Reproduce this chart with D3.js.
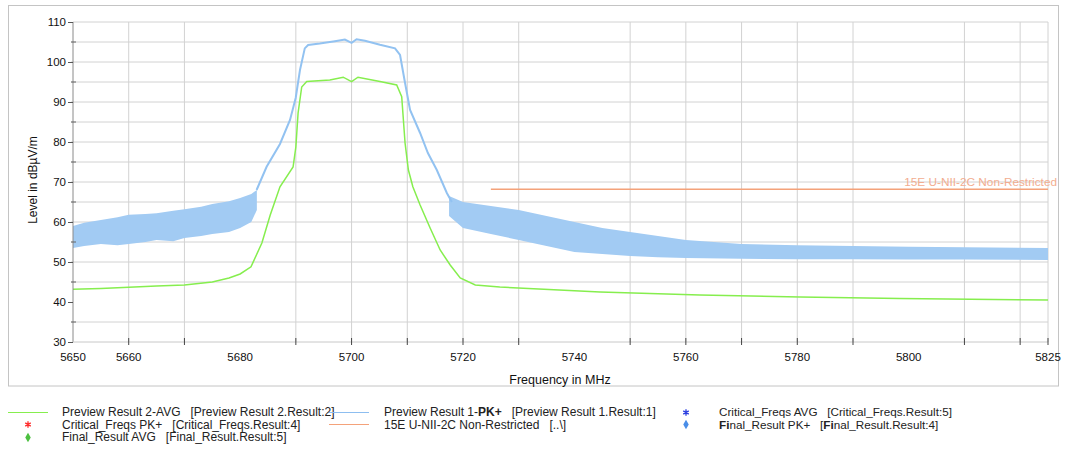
<!DOCTYPE html>
<html>
<head>
<meta charset="utf-8">
<script src="https://cdn.jsdelivr.net/npm/d3@7"></script>
<style>
  html, body { margin: 0; padding: 0; background: #fff; }
  svg { display: block; font-family: "Liberation Sans", Arial, sans-serif; }
  text { white-space: pre; }
</style>
</head>
<body>
<svg id="chart" width="1067" height="450"></svg>
<script>
// Frequency axis (MHz) and level axis (dBµV/m)
const xLabelTicks = [5650, 5660, 5680, 5700, 5720, 5740, 5760, 5780, 5800, 5825];
const xGridTicks = [5660, 5670, 5690, 5700, 5710, 5720, 5730, 5750, 5760, 5770, 5780, 5790, 5810, 5820];
const yLabelTicks = [30, 40, 50, 60, 70, 80, 90, 100, 110];
const yGridTicks = [35, 45, 50, 55, 60, 65, 70, 75, 80, 85, 90, 95, 100, 105];
const yMinorTicks = [35, 45, 55, 65, 75, 85, 95, 105];

// Preview Result 2-AVG (green trace): frequency / level
const avgFreq = [5650, 5655, 5660, 5665, 5670, 5675, 5678, 5680, 5681.95, 5683.9, 5685.4, 5687.15, 5689.5, 5690.0, 5690.4, 5691.05, 5691.95, 5696.1, 5698.5, 5700.0, 5701.15, 5705.1, 5708.1, 5709.0, 5709.6, 5710.2, 5711.0, 5712.3, 5714.1, 5715.9, 5717.7, 5719.5, 5722.2, 5726.6, 5744.6, 5762.5, 5780.5, 5798.4, 5825];
const avgLevel = [43.2, 43.4, 43.7, 44.0, 44.25, 45.0, 46.0, 47.0, 48.8, 54.75, 61.75, 68.8, 73.75, 78.75, 87.25, 93.75, 95.1, 95.5, 96.2, 95.1, 96.2, 95.1, 94.25, 91.3, 79.75, 73.0, 68.8, 64.25, 58.5, 53.0, 49.25, 46.0, 44.25, 43.75, 42.5, 41.75, 41.25, 40.9, 40.5];

// Preview Result 1-PK+ (blue trace): noisy lower band, min / max envelope
const pkLowFreq = [5650, 5652, 5655, 5658, 5660, 5663, 5665, 5668, 5670, 5673, 5675, 5678, 5680, 5682, 5683];
const pkLowMin  = [53.5, 54.0, 54.5, 54.2, 54.5, 55.0, 55.5, 55.2, 56.0, 56.5, 57.0, 57.5, 58.5, 60.0, 63.0];
const pkLowMax  = [59.0, 59.8, 60.5, 61.2, 61.8, 62.0, 62.2, 62.8, 63.2, 63.8, 64.5, 65.2, 66.0, 67.0, 68.0];

// Blue trace: occupied channel skirts and plateau
const pkMainFreq  = [5682.95, 5684.75, 5687.15, 5688.95, 5689.97, 5690.74, 5691.6, 5692.2, 5694.3, 5697.0, 5698.8, 5700.0, 5700.9, 5702.4, 5705.1, 5707.8, 5708.7, 5709.6, 5710.5, 5712.3, 5713.7, 5715.3, 5717.1, 5718.0];
const pkMainLevel = [68.0, 73.8, 79.5, 85.5, 91.0, 98.0, 103.4, 104.25, 104.6, 105.2, 105.6, 104.8, 105.7, 105.3, 104.3, 103.4, 101.75, 94.75, 88.0, 82.25, 77.25, 73.0, 67.25, 65.0];

// Blue trace: noisy upper band, min / max envelope
const pkHighFreq = [5717.5, 5720, 5725, 5730, 5735, 5740, 5745, 5750, 5755, 5760, 5770, 5780, 5790, 5800, 5810, 5825];
const pkHighMin  = [61.5, 58.5, 57.0, 55.5, 54.0, 52.5, 52.0, 51.5, 51.2, 51.0, 50.8, 50.7, 50.7, 50.6, 50.6, 50.5];
const pkHighMax  = [66.5, 65.0, 64.0, 63.0, 61.5, 60.0, 58.5, 57.5, 56.5, 55.5, 54.5, 54.2, 54.0, 53.8, 53.7, 53.5];

// 15E U-NII-2C Non-Restricted limit
const limitFreq = [5725, 5825];
const limitLevel = [68.2, 68.2];
const limitName = "15E U-NII-2C Non-Restricted";

const svg = d3.select("#chart");
const x = d3.scaleLinear().domain([5650, 5825]).range([73, 1048]);
const y = d3.scaleLinear().domain([30, 110]).range([342, 22]);

// Outer frame
svg.append("rect").attr("x", 8.5).attr("y", 5.5).attr("width", 1050).attr("height", 380.5)
  .attr("fill", "none").attr("stroke", "#c4c4c4");

// Grid
const grid = svg.append("g").attr("stroke", "#d2d2d2").attr("stroke-width", 1);
grid.selectAll(".vg").data(xGridTicks).join("line")
  .attr("x1", d => x(d)).attr("x2", d => x(d)).attr("y1", y(110)).attr("y2", y(30));
grid.selectAll(".hg").data(yGridTicks).join("line")
  .attr("x1", x(5650) - 2).attr("x2", x(5825)).attr("y1", d => y(d)).attr("y2", d => y(d));
grid.append("line").attr("x1", x(5650)).attr("x2", x(5825)).attr("y1", y(110)).attr("y2", y(110));
grid.append("line").attr("x1", x(5825)).attr("x2", x(5825)).attr("y1", y(110)).attr("y2", y(30));

// Traces
const bandLow = pkLowFreq.map((f, i) => ({ f, lo: pkLowMin[i], hi: pkLowMax[i] }));
const bandHigh = pkHighFreq.map((f, i) => ({ f, lo: pkHighMin[i], hi: pkHighMax[i] }));
const area = d3.area().x(d => x(d.f)).y0(d => y(d.lo)).y1(d => y(d.hi));
svg.append("path").datum(bandLow).attr("d", area).attr("fill", "#a2cbf3");
svg.append("path").datum(bandHigh).attr("d", area).attr("fill", "#a2cbf3");

const line = d3.line().x(d => x(d[0])).y(d => y(d[1]));
svg.append("path").datum(pkMainFreq.map((f, i) => [f, pkMainLevel[i]]))
  .attr("d", line).attr("fill", "none").attr("stroke", "#92c2f1").attr("stroke-width", 2);

svg.append("path").datum(avgFreq.map((f, i) => [f, avgLevel[i]]))
  .attr("d", line).attr("fill", "none").attr("stroke", "#86ee4e").attr("stroke-width", 1.5);

svg.append("path").datum(limitFreq.map((f, i) => [f, limitLevel[i]]))
  .attr("d", line).attr("fill", "none").attr("stroke", "#f4a27a").attr("stroke-width", 1.5);
svg.append("text").attr("x", x(5825) + 9).attr("y", y(68.2) - 3).attr("text-anchor", "end")
  .attr("font-size", 11.8).attr("fill", "#f2ad90").text(limitName);

// Axes
const axisColor = "#8a8a8a";
svg.append("line").attr("x1", x(5650)).attr("x2", x(5650)).attr("y1", y(110)).attr("y2", y(30)).attr("stroke", axisColor);
svg.append("line").attr("x1", x(5650)).attr("x2", x(5825)).attr("y1", y(30)).attr("y2", y(30)).attr("stroke", "#c8c8c8");

const yAxis = d3.axisLeft(y).tickValues(yLabelTicks).tickSize(5).tickPadding(2).tickFormat(d3.format("d"));
const gy = svg.append("g").attr("transform", `translate(${x(5650)},0)`).call(yAxis);
gy.select(".domain").remove();
gy.selectAll("line").attr("stroke", "#555");
gy.selectAll("text").attr("font-size", 11.5).attr("fill", "#111").attr("font-family", "Liberation Sans, Arial, sans-serif");
svg.append("g").selectAll("line").data(yMinorTicks).join("line")
  .attr("x1", x(5650) - 2).attr("x2", x(5650) + 3).attr("y1", d => y(d)).attr("y2", d => y(d)).attr("stroke", "#666");

const xTickMarks = xGridTicks.concat([5825]);
svg.append("g").selectAll("line").data(xTickMarks).join("line")
  .attr("x1", d => x(d)).attr("x2", d => x(d)).attr("y1", y(30) - 4).attr("y2", y(30) + 3).attr("stroke", "#444");
svg.append("g").selectAll("text").data(xLabelTicks).join("text")
  .attr("x", d => x(d)).attr("y", 361).attr("text-anchor", "middle")
  .attr("font-size", 11.5).attr("fill", "#111").text(d => d);

// Axis titles
svg.append("text").attr("x", 560).attr("y", 384).attr("text-anchor", "middle")
  .attr("font-size", 12.5).attr("fill", "#111").text("Frequency in MHz");
svg.append("text").attr("transform", "translate(37,180) rotate(-90)").attr("text-anchor", "middle")
  .attr("font-size", 12).attr("fill", "#111").text("Level in dBµV/m");

// Legend
const legendRows = [416, 428.5, 441];
const legendItems = [
  { col: 0, row: 0, kind: "line", color: "#86ee4e", parts: [["Preview Result 2-AVG   [Preview Result 2.Result:2]", false]] },
  { col: 1, row: 0, kind: "line", color: "#8dbef0", parts: [["Preview Result 1-", false], ["PK+", true], ["   [Preview Result 1.Result:1]", false]] },
  { col: 2, row: 0, kind: "star", color: "#2a3ee0", parts: [["Critical_Freqs AVG   [Critical_Freqs.Result:5]", false]] },
  { col: 0, row: 1, kind: "star", color: "#ff2a2a", parts: [["Critical_Freqs PK+   [Critical_Freqs.Result:4]", false]] },
  { col: 1, row: 1, kind: "line", color: "#f4a27a", parts: [["15E U-NII-2C Non-Restricted   [..\\]", false]] },
  { col: 2, row: 1, kind: "diamond", color: "#4a8ee8", parts: [["Fi", true], ["nal_Result PK+   [", false], ["Fi", true], ["nal_Result.Result:4]", false]] },
  { col: 0, row: 2, kind: "diamond", color: "#4cc040", parts: [["Final_Result AVG   [Final_Result.Result:5]", false]] }
];
const colSym = [[8, 48], [329, 369], [666, 706]];
const colText = [62, 384, 719];
const colSize = [12, 12, 11.7];
const lg = svg.append("g");
legendItems.forEach(it => {
  const cy = Math.round(legendRows[it.row] - 4.5) + 0.5;
  const [a, b] = colSym[it.col];
  const mx = (a + b) / 2;
  if (it.kind === "line") {
    lg.append("line").attr("x1", a).attr("x2", b).attr("y1", cy).attr("y2", cy)
      .attr("stroke", it.color).attr("stroke-width", 1);
  } else if (it.kind === "star") {
    lg.append("path").attr("d", d3.symbol(d3.symbolAsterisk, 28)())
      .attr("transform", `translate(${mx},${cy})`).attr("stroke", it.color).attr("stroke-width", 1.3).attr("fill", "none");
  } else {
    lg.append("path").attr("d", d3.symbol(d3.symbolDiamond, 26)())
      .attr("transform", `translate(${mx},${cy})`).attr("fill", it.color);
  }
  const t = lg.append("text").attr("x", colText[it.col]).attr("y", legendRows[it.row])
    .attr("font-size", colSize[it.col]).attr("fill", "#222");
  it.parts.forEach(([s, bold]) => t.append("tspan").attr("font-weight", bold ? "bold" : "normal").text(s));
});
</script>
</body>
</html>
